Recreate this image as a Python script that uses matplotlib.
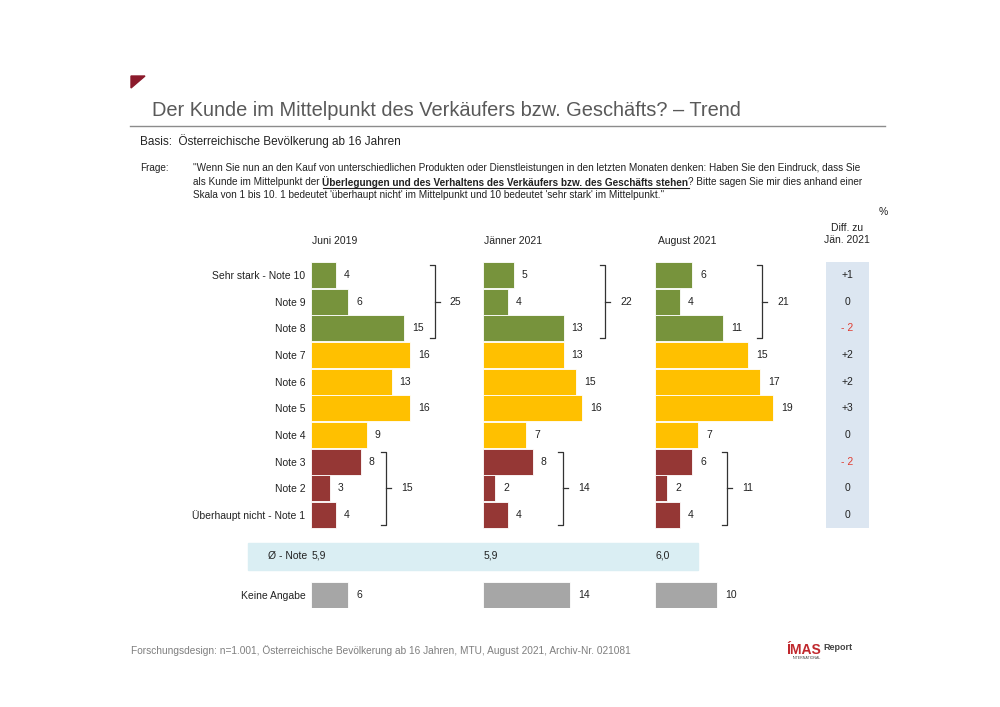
import matplotlib.pyplot as plt
from matplotlib.patches import Rectangle, Polygon
from matplotlib.lines import Line2D

plt.rcParams['font.family'] = ['Liberation Sans', 'DejaVu Sans']

# Data
categories = ["Sehr stark - Note 10", "Note 9", "Note 8", "Note 7", "Note 6",
              "Note 5", "Note 4", "Note 3", "Note 2", "Überhaupt nicht - Note 1"]
waves = ["Juni 2019", "Jänner 2021", "August 2021"]
juni_2019 = [4, 6, 15, 16, 13, 16, 9, 8, 3, 4]
jaenner_2021 = [5, 4, 13, 13, 15, 16, 7, 8, 2, 4]
august_2021 = [6, 4, 11, 15, 17, 19, 7, 6, 2, 4]
top_sums = [25, 22, 21]
bottom_sums = [15, 14, 11]
avg_note = ["5,9", "5,9", "6,0"]
keine_angabe = [6, 14, 10]
diff_labels = ["+1", "0", "- 2", "+2", "+2", "+3", "0", "- 2", "0", "0"]

series = [juni_2019, jaenner_2021, august_2021]
bar_colors = ["#77933c"] * 3 + ["#ffc000"] * 4 + ["#953735"] * 3

W, H = 1000, 707
fig = plt.figure(figsize=(10, 7.07), dpi=100)


def fx(px):
    return px / W


def fy(py):
    return 1 - py / H


# red corner mark
fig.add_artist(Polygon([[fx(131), fy(76)], [fx(145), fy(76)], [fx(131), fy(88)]],
                       closed=True, color="#8b1a2b", transform=fig.transFigure))

# title
fig.text(fx(152), fy(111), "Der Kunde im Mittelpunkt des Verkäufers bzw. Geschäfts? – Trend",
         fontsize=14.4, color="#595959", va="center")
fig.add_artist(Line2D([fx(130), fx(885)], [fy(125.5), fy(125.5)], color="#8c8c8c",
                      lw=1, transform=fig.transFigure))

fig.text(fx(140), fy(141), "Basis:  Österreichische Bevölkerung ab 16 Jahren",
         fontsize=8.5, color="#222222", va="center")

# question text
qs = 7.2
fig.text(fx(140), fy(168), "Frage:", fontsize=qs, color="#222222", va="center")
fig.text(fx(193), fy(168),
         "\"Wenn Sie nun an den Kauf von unterschiedlichen Produkten oder Dienstleistungen in den "
         "letzten Monaten denken: Haben Sie den Eindruck, dass Sie",
         fontsize=qs, color="#222222", va="center")
renderer = fig.canvas.get_renderer()
t1 = fig.text(fx(193), fy(182), "als Kunde im Mittelpunkt der", fontsize=qs,
              color="#222222", va="center")
x_next = t1.get_window_extent(renderer).x1 + 3
t2 = fig.text(x_next / W, fy(182),
              "Überlegungen und des Verhaltens des Verkäufers bzw. des Geschäfts stehen",
              fontsize=qs, color="#222222", va="center", weight="bold")
bb2 = t2.get_window_extent(renderer)
fig.add_artist(Line2D([bb2.x0 / W, bb2.x1 / W], [fy(187.5), fy(187.5)], color="#222222",
                      lw=0.8, transform=fig.transFigure))
fig.text(bb2.x1 / W, fy(182),
         "? Bitte sagen Sie mir dies anhand einer", fontsize=qs, color="#222222", va="center")
fig.text(fx(193), fy(195),
         "Skala von 1 bis 10. 1 bedeutet 'überhaupt nicht' im Mittelpunkt und 10 bedeutet "
         "'sehr stark' im Mittelpunkt.\"",
         fontsize=qs, color="#222222", va="center")

# percent and diff header
fig.text(fx(883), fy(212), "%", fontsize=7.5, color="#222222", ha="center", va="center")
fig.text(fx(847), fy(234), "Diff. zu\nJän. 2021", fontsize=7.5, color="#222222",
         ha="center", va="center", linespacing=1.3)

# average band
fig.add_artist(Rectangle((fx(248), fy(570)), fx(698) - fx(248), fy(543) - fy(570),
                         color="#daeef3", transform=fig.transFigure, zorder=0))
fig.text(fx(307), fy(556), "Ø - Note", fontsize=7.5, color="#222222", ha="right", va="center")

# panels
scale = 6.2  # px per percent
row_px = 26.67
top_px = 275 - row_px / 2
bottom_px = 275 + 12.5 * row_px
panel_left = [311, 483, 655]
header_x = [335, 513, 687]
top_br = [20.0, 19.7, 17.3]
bot_br = [12.1, 12.9, 11.6]
panel_w = 160
rows = list(range(10))

for i, vals in enumerate(series):
    ax = fig.add_axes([fx(panel_left[i]), fy(bottom_px), panel_w / W,
                       (bottom_px - top_px) / H])
    ax.set_xlim(0, panel_w / scale)
    ax.set_ylim(12.5, -0.5)
    ax.barh(rows, vals, height=0.97, color=bar_colors, edgecolor="white", linewidth=0.6)
    ax.barh([12], [keine_angabe[i]], height=0.97, color="#a6a6a6", edgecolor="white",
            linewidth=0.6)
    for r, v in zip(rows, vals):
        ax.text(v + 1.3, r, str(v), fontsize=7.5, va="center", ha="left", color="#222222")
    ax.text(keine_angabe[i] + 1.3, 12, str(keine_angabe[i]), fontsize=7.5, va="center",
            ha="left", color="#222222")
    ax.text(0.15, 10.5, avg_note[i], fontsize=7.5, va="center", ha="left", color="#222222")

    # brackets
    for bx, (y0, y1), lab in [(top_br[i], (-0.37, 2.37), top_sums[i]),
                              (bot_br[i], (6.63, 9.37), bottom_sums[i])]:
        ax.plot([bx - 0.8, bx, bx, bx - 0.8], [y0, y0, y1, y1], color="#333333",
                lw=0.9, clip_on=False)
        ax.plot([bx, bx + 0.8], [(y0 + y1) / 2] * 2, color="#333333", lw=0.9, clip_on=False)
        ax.text(bx + 2.4, (y0 + y1) / 2, str(lab), fontsize=7.5, va="center", ha="left",
                color="#222222")

    fig.text(fx(header_x[i]), fy(241), waves[i], fontsize=7.5, ha="center", va="center",
             color="#222222")

    ax.set_xticks([])
    for s in ax.spines.values():
        s.set_visible(False)
    ax.patch.set_alpha(0)
    if i == 0:
        ax.set_yticks(rows + [12])
        ax.set_yticklabels(categories + ["Keine Angabe"], fontsize=7.5, color="#222222")
        ax.tick_params(axis="y", length=0, pad=4)
    else:
        ax.set_yticks([])

# diff column
axd = fig.add_axes([fx(826), fy(275 + 9.5 * row_px), 43 / W, 10 * row_px / H])
axd.set_xlim(0, 1)
axd.set_ylim(9.5, -0.5)
axd.set_xticks([])
axd.set_yticks([])
for s in axd.spines.values():
    s.set_visible(False)
axd.set_facecolor("#dce6f1")
for r, lab in zip(rows, diff_labels):
    axd.text(0.5, r, lab, fontsize=7.5, ha="center", va="center",
             color="#e03c31" if lab.startswith("-") else "#222222")

# footer
fig.text(fx(131), fy(651),
         "Forschungsdesign: n=1.001, Österreichische Bevölkerung ab 16 Jahren, MTU, August 2021, "
         "Archiv-Nr. 021081", fontsize=7.3, color="#7f7f7f", va="center")
fig.text(fx(786), fy(650), "ÍMAS", fontsize=10, weight="bold", color="#c0282d", va="center")
fig.text(fx(823), fy(648), "Report", fontsize=6.5, weight="bold", color="#444444", va="center")
fig.text(fx(793), fy(658), "INTERNATIONAL", fontsize=2.6, color="#444444", va="center")

fig.savefig("out.png", dpi=100)
